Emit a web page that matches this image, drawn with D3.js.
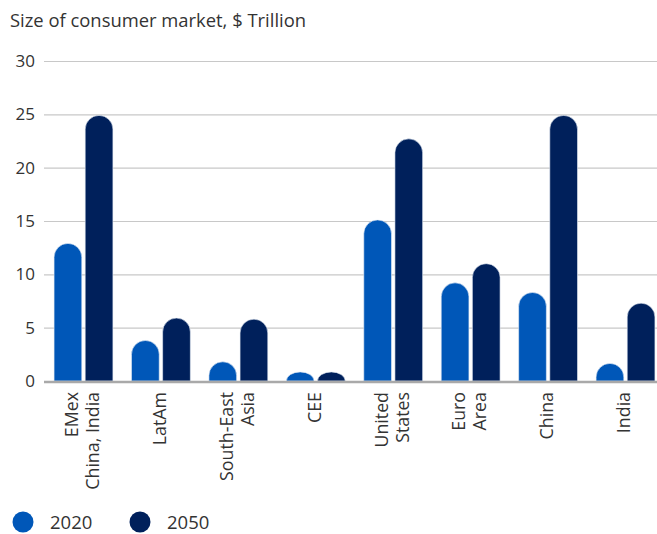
<!DOCTYPE html>
<html>
<head>
<meta charset="utf-8">
<script src="https://cdn.jsdelivr.net/npm/d3@7"></script>
<style>
  html, body { margin: 0; padding: 0; background: #fff; }
  svg { display: block; font-family: "Open Sans", Lato, sans-serif; }
</style>
</head>
<body>
<svg id="chart" width="657" height="534"></svg>
<script>
// Consumer market size by region, $ trillion
const categories = [
  ["EMex", "China, India"],
  ["LatAm"],
  ["South-East", "Asia"],
  ["CEE"],
  ["United", "States"],
  ["Euro", "Area"],
  ["China"],
  ["India"]
];
const seriesNames = ["2020", "2050"];
const values2020 = [12.9, 3.8, 1.8, 0.85, 15.1, 9.2, 8.3, 1.65];
const values2050 = [24.9, 5.9, 5.8, 0.85, 22.7, 11.0, 24.9, 7.3];
const yTicks = [0, 5, 10, 15, 20, 25, 30];
const colors = ["#0057b8", "#00205b"];

const svg = d3.select("#chart");
const margin = { left: 44, right: -8, top: 61, bottom: 153 };
const W = 657, H = 534;
const textColor = "#333";

const keys = categories.map(c => c.join(" "));
const x0 = d3.scaleBand()
  .domain(keys)
  .range([margin.left, W - margin.right])
  .paddingInner(0.24)
  .paddingOuter(0.13);
const x1 = d3.scaleBand()
  .domain(seriesNames)
  .range([0, x0.bandwidth()])
  .paddingInner(0.11);
const y = d3.scaleLinear()
  .domain([0, 30])
  .range([H - margin.bottom, margin.top]);

// Subtitle
svg.append("text")
  .attr("x", 10).attr("y", 27)
  .attr("font-size", 18.4)
  .attr("fill", textColor)
  .text("Size of consumer market, $ Trillion");

// Gridlines and y tick labels
const yAxis = d3.axisLeft(y).tickValues(yTicks).tickSize(0).tickPadding(9);
const gy = svg.append("g").attr("transform", `translate(${margin.left},0)`).call(yAxis);
gy.select(".domain").remove();
gy.selectAll("text").attr("font-size", 17).attr("fill", textColor).attr("font-family", "'Open Sans', sans-serif");

svg.append("g").selectAll("line")
  .data(yTicks.filter(t => t > 0))
  .join("line")
  .attr("x1", margin.left).attr("x2", W)
  .attr("y1", d => y(d) + 0.5).attr("y2", d => y(d) + 0.5)
  .attr("stroke", "#c8c8c8").attr("stroke-width", 1.2);

// Bars with rounded tops
function pillPath(xp, w, y0, yt) {
  const h = y0 - yt;
  const rx = w / 2;
  const ry = Math.min(rx, h);
  return `M${xp},${y0} L${xp},${yt + ry} A${rx},${ry} 0 0 1 ${xp + w},${yt + ry} L${xp + w},${y0} Z`;
}

const rows = keys.map((k, i) => ({ key: k, vals: [values2020[i], values2050[i]] }));
const groups = svg.append("g").selectAll("g")
  .data(rows)
  .join("g")
  .attr("transform", d => `translate(${x0(d.key)},0)`);

groups.selectAll("path")
  .data(d => d.vals.map((v, j) => ({ s: seriesNames[j], v, j })))
  .join("path")
  .attr("d", d => pillPath(x1(d.s), x1.bandwidth(), y(0), y(d.v)))
  .attr("fill", d => colors[d.j])
  .attr("stroke", "#e6ecf5")
  .attr("stroke-width", 0.6);

// Baseline
svg.append("line")
  .attr("x1", margin.left).attr("x2", W)
  .attr("y1", y(0) + 1).attr("y2", y(0) + 1)
  .attr("stroke", "#a9a9a9").attr("stroke-width", 2.5);

// Rotated category labels
const lineH = 21;
const labels = svg.append("g").selectAll("text")
  .data(categories)
  .join("text")
  .attr("transform", (d, i) => `translate(${x0(keys[i]) + x0.bandwidth() / 2 - 1.5},${y(0) + 11}) rotate(-90)`)
  .attr("text-anchor", "end")
  .attr("font-size", 17.8)
  .attr("fill", textColor);
labels.selectAll("tspan")
  .data(d => d.map((t, k) => ({ t, k, n: d.length })))
  .join("tspan")
  .attr("x", 0)
  .attr("y", d => (d.k - (d.n - 1) / 2) * lineH)
  .attr("dy", "0.36em")
  .text(d => d.t);

// Legend
const legend = svg.append("g").selectAll("g")
  .data(seriesNames)
  .join("g")
  .attr("transform", (d, i) => `translate(${23 + i * 117},522)`);
legend.append("circle").attr("r", 10.5).attr("fill", (d, i) => colors[i]);
legend.append("text")
  .attr("x", 27).attr("y", 6.5)
  .attr("font-size", 18.5)
  .attr("fill", textColor)
  .text(d => d);
</script>
</body>
</html>
